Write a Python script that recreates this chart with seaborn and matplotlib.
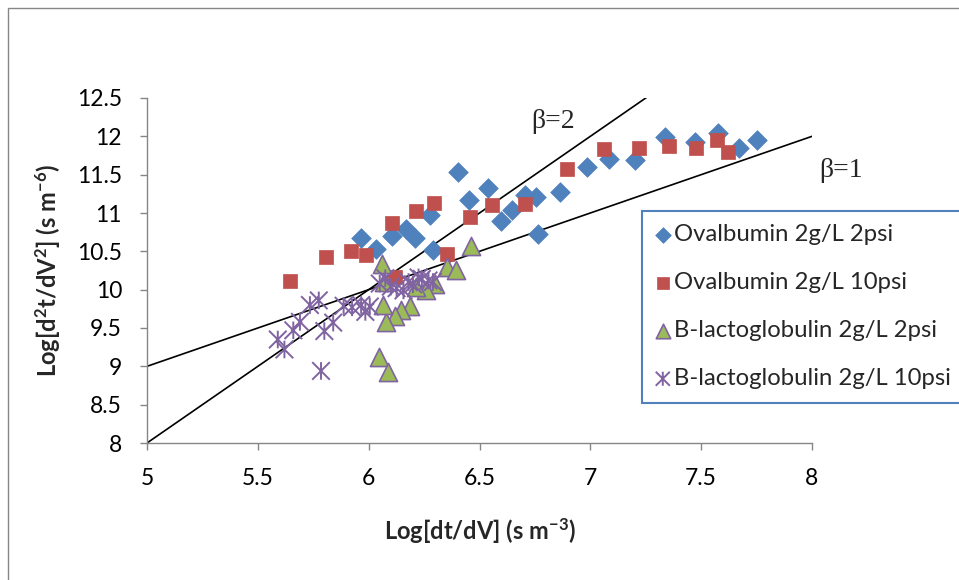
import matplotlib
matplotlib.use("Agg")
import matplotlib.pyplot as plt
import seaborn as sns
import pandas as pd
from matplotlib.path import Path
from matplotlib.patches import Rectangle

# Ovalbumin 2 g/L, 2 psi
ova2_x = [5.964, 6.033, 6.104, 6.168, 6.209, 6.277, 6.292, 6.405, 6.454, 6.540, 6.596,
          6.645, 6.705, 6.757, 6.765, 6.863, 6.986, 7.085, 7.200, 7.335, 7.470, 7.577,
          7.670, 7.750]
ova2_y = [10.68, 10.53, 10.70, 10.79, 10.68, 10.97, 10.52, 11.54, 11.17, 11.33, 10.89,
          11.04, 11.23, 11.21, 10.73, 11.28, 11.60, 11.71, 11.69, 11.99, 11.92, 12.04,
          11.85, 11.95]

# Ovalbumin 2 g/L, 10 psi
ova10_x = [5.645, 5.807, 5.921, 5.988, 6.104, 6.119, 6.213, 6.295, 6.352, 6.457, 6.555,
           6.705, 6.893, 7.060, 7.220, 7.355, 7.475, 7.570, 7.620]
ova10_y = [10.11, 10.42, 10.50, 10.45, 10.87, 10.16, 11.02, 11.13, 10.46, 10.95, 11.10,
           11.12, 11.58, 11.83, 11.85, 11.88, 11.85, 11.95, 11.79]

# B-lactoglobulin 2 g/L, 2 psi
blg2_x = [6.060, 6.460, 6.352, 6.395, 6.300, 6.260, 6.215, 6.186, 6.145, 6.120, 6.080,
          6.063, 6.047, 6.086, 6.070]
blg2_y = [10.33, 10.57, 10.30, 10.26, 10.07, 10.00, 10.03, 9.79, 9.73, 9.66, 9.58,
          9.80, 9.12, 8.92, 10.10]

# B-lactoglobulin 2 g/L, 10 psi
blg10_x = [5.590, 5.620, 5.660, 5.690, 5.735, 5.775, 5.785, 5.800, 5.840, 5.887, 5.925,
           5.966, 5.985, 6.005, 6.050, 6.075, 6.100, 6.126, 6.157, 6.180, 6.200, 6.225,
           6.240, 6.270, 6.290]
blg10_y = [9.35, 9.22, 9.47, 9.58, 9.80, 9.86, 8.94, 9.46, 9.57, 9.79, 9.77,
           9.80, 9.71, 9.78, 10.08, 10.15, 10.04, 10.02, 9.99, 10.10, 10.07, 10.16,
           10.14, 10.12, 10.10]

series_names = ["Ovalbumin 2g/L 2psi", "Ovalbumin 2g/L 10psi",
                "B-lactoglobulin 2g/L 2psi", "B-lactoglobulin 2g/L 10psi"]

# Reference slopes (beta) through the common point
beta_values = [1, 2]
beta_pivot = (6.0, 10.0)
beta_x_span = [5.0, 8.0]

x_ticks = [5, 5.5, 6, 6.5, 7, 7.5, 8]
y_ticks = [8, 8.5, 9, 9.5, 10, 10.5, 11, 11.5, 12, 12.5]

BLUE, RED, GREEN, PURPLE = "#4F81BD", "#C0504D", "#9BBB59", "#8064A2"
AXIS_GREY = "#868686"

sns.set_theme(style="white")
plt.rcParams["font.family"] = ["Lato", "DejaVu Sans"]
plt.rcParams["mathtext.default"] = "regular"

# asterisk marker: vertical bar plus an X
star = Path([(0, -1), (0, 1), (-1, -1), (1, 1), (-1, 1), (1, -1)],
            [Path.MOVETO, Path.LINETO] * 3)

frames = []
for name, xs, ys in [(series_names[0], ova2_x, ova2_y),
                     (series_names[1], ova10_x, ova10_y),
                     (series_names[2], blg2_x, blg2_y),
                     (series_names[3], blg10_x, blg10_y)]:
    frames.append(pd.DataFrame({"x": xs, "y": ys, "series": name}))
df = pd.concat(frames, ignore_index=True)

W, H = 959, 580
fig = plt.figure(figsize=(W / 100, H / 100), dpi=100)
fig.patch.set_facecolor("white")
# outer chart border (runs past the right and bottom edges)
fig.add_artist(Rectangle((8 / W, 0 - 0.05), 1.1, 1 - 8 / H + 0.05,
                         transform=fig.transFigure, fill=False,
                         edgecolor=AXIS_GREY, linewidth=1.0))
# legend box (also runs past the right edge)
fig.add_artist(Rectangle((642 / W, 1 - 403 / H), 0.5, 192 / H,
                         transform=fig.transFigure, fill=True, facecolor="white",
                         edgecolor=BLUE, linewidth=1.5, zorder=4))

ax = fig.add_axes([147 / W, 137 / H, 665 / W, 345 / H])
ax.set_facecolor("none")

# reference lines
for b in beta_values:
    ys = [beta_pivot[1] + b * (x - beta_pivot[0]) for x in beta_x_span]
    ax.plot(beta_x_span, ys, color="black", linewidth=1.2, zorder=2)

styles = {
    series_names[0]: dict(marker="D", s=100, color=BLUE, edgecolor=BLUE, linewidth=0.5),
    series_names[1]: dict(marker="s", s=115, color=RED, edgecolor=RED, linewidth=0.5),
    series_names[2]: dict(marker="^", s=170, color=GREEN, edgecolor=PURPLE, linewidth=1.2),
    series_names[3]: dict(marker=star, s=160, color=PURPLE, edgecolor=PURPLE,
                          facecolor="none", linewidth=1.4),
}
for name in series_names:
    sub = df[df["series"] == name]
    sns.scatterplot(data=sub, x="x", y="y", ax=ax, label=name, zorder=3,
                    **styles[name])

ax.set_xlim(5, 8)
ax.set_ylim(8, 12.5)
ax.set_xticks(x_ticks)
ax.set_yticks(y_ticks)
ax.set_xticklabels([f"{t:g}" for t in x_ticks])
ax.set_yticklabels([f"{t:g}" for t in y_ticks])
for side in ["top", "right"]:
    ax.spines[side].set_visible(False)
for side in ["left", "bottom"]:
    ax.spines[side].set_color(AXIS_GREY)
    ax.spines[side].set_linewidth(1.0)
ax.tick_params(axis="both", which="major", direction="out", length=5, width=1.0,
               color=AXIS_GREY, labelsize=16.5, labelcolor="black",
               left=True, bottom=True)
ax.tick_params(axis="y", pad=13)
ax.tick_params(axis="x", pad=13)
ax.grid(False)

ax.set_xlabel("Log[dt/dV] (s m$^{-3}$)", fontsize=17, fontweight="bold", labelpad=20)
ax.set_ylabel("Log[d$^{2}$t/dV$^{2}$] (s m$^{-6}$)", fontsize=17, fontweight="bold",
              labelpad=10)

ax.text(6.83, 12.2, "β=2", fontsize=20, family="Liberation Serif",
        ha="center", va="center", clip_on=False)
ax.text(8.13, 11.56, "β=1", fontsize=20, family="Liberation Serif",
        ha="center", va="center", clip_on=False)

leg = ax.legend(loc="upper left", bbox_to_anchor=(642 / W, 1 - 214 / H),
                bbox_transform=fig.transFigure, borderaxespad=0, fontsize=17.2,
                frameon=False, labelspacing=1.13, handletextpad=0.0,
                handlelength=0.9, borderpad=0.42, markerscale=0.8)
leg.set_zorder(5)
leg.remove()
fig.add_artist(leg)

fig.savefig("out.png", dpi=100)
